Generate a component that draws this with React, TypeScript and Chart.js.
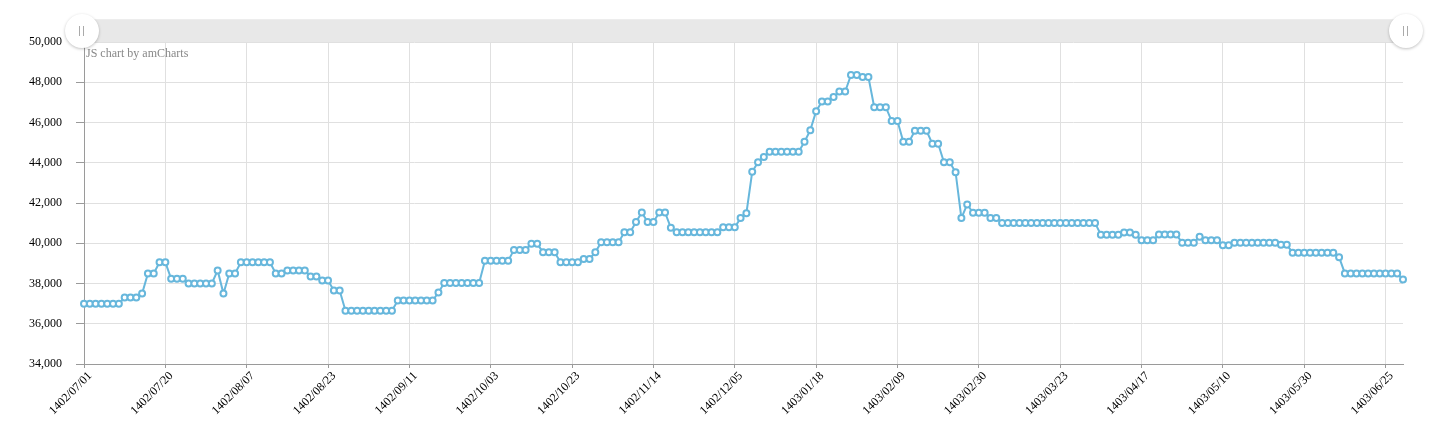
import React, { useEffect, useRef } from 'react';
import { Chart, registerables } from 'chart.js';

Chart.register(...registerables);

// Axis tick labels (one label every 14 trading days)
const tickLabels = [
  '1402/07/01', '1402/07/20', '1402/08/07', '1402/08/23', '1402/09/11',
  '1402/10/03', '1402/10/23', '1402/11/14', '1402/12/05', '1403/01/18',
  '1403/02/09', '1403/02/30', '1403/03/23', '1403/04/17', '1403/05/10',
  '1403/05/30', '1403/06/25',
];
const TICK_EVERY = 14;

// Price series (one value per trading day)
const prices = [
  37000, 37000, 37000, 37000, 37000, 37000, 37000,
  37300, 37300, 37300,
  37500,
  38500, 38500,
  39050, 39050,
  38230, 38230, 38230,
  38000, 38000, 38000, 38000, 38000,
  38650,
  37500,
  38500, 38500,
  39050, 39050, 39050, 39050, 39050, 39050,
  38500, 38500,
  38650, 38650, 38650, 38650,
  38350, 38350,
  38150, 38150,
  37650, 37650,
  36650, 36650, 36650, 36650, 36650, 36650, 36650, 36650, 36650,
  37150, 37150, 37150, 37150, 37150, 37150, 37150,
  37550,
  38030, 38030, 38030, 38030, 38030, 38030, 38030,
  39130, 39130, 39130, 39130, 39130,
  39670, 39670, 39670,
  39970, 39970,
  39550, 39550, 39550,
  39050, 39050, 39050, 39050,
  39220, 39220,
  39550,
  40050, 40050, 40050, 40050,
  40550, 40550,
  41050,
  41530,
  41050, 41050,
  41530, 41530,
  40770,
  40550, 40550, 40550, 40550, 40550, 40550, 40550, 40550,
  40790, 40790, 40790,
  41250,
  41490,
  43550,
  44030,
  44280,
  44550, 44550, 44550, 44550, 44550, 44550,
  45040,
  45620,
  46560,
  47040, 47040,
  47270,
  47540, 47540,
  48360, 48360,
  48260, 48260,
  46760, 46760, 46760,
  46070, 46070,
  45040, 45040,
  45590, 45590, 45590,
  44950, 44950,
  44020, 44020,
  43530,
  41250,
  41930,
  41510, 41510, 41510,
  41250, 41250,
  41010, 41010, 41010, 41010, 41010, 41010, 41010, 41010, 41010,
  41010, 41010, 41010, 41010, 41010, 41010, 41010, 41010,
  40420, 40420, 40420, 40420,
  40540, 40540,
  40420,
  40150, 40150, 40150,
  40430, 40430, 40430, 40430,
  40020, 40020, 40020,
  40320,
  40150, 40150, 40150,
  39900, 39900,
  40030, 40030, 40030, 40030, 40030, 40030, 40030, 40030,
  39930, 39930,
  39530, 39530, 39530, 39530, 39530, 39530, 39530, 39530,
  39310,
  38500, 38500, 38500, 38500, 38500, 38500, 38500, 38500, 38500, 38500,
  38200,
];

const Y_MIN = 34000;
const Y_MAX = 50000;
const Y_STEP = 2000;

const categories = prices.map((_, i) =>
  i % TICK_EVERY === 0 && tickLabels[i / TICK_EVERY] ? tickLabels[i / TICK_EVERY] : ''
);

const LINE = '#67b7dc';
const GRID = '#e0e0e0';
const AXIS = '#9a9a9a';
const FONT = '"Liberation Serif", "Times New Roman", serif';

function Grip({ left }: { left: number }) {
  return (
    <div
      style={{
        position: 'absolute',
        left: left - 17,
        top: 14,
        width: 34,
        height: 34,
        borderRadius: '50%',
        background: '#fff',
        boxShadow: '0 1px 3px rgba(0,0,0,0.25)',
      }}
    >
      <div style={{ position: 'absolute', left: 14, top: 12, width: 1, height: 10, background: '#aaa' }} />
      <div style={{ position: 'absolute', left: 18, top: 12, width: 1, height: 10, background: '#aaa' }} />
    </div>
  );
}

export default function App() {
  const ref = useRef<HTMLCanvasElement>(null);

  useEffect(() => {
    if (!ref.current) return;
    const chart = new Chart(ref.current, {
      type: 'line',
      data: {
        labels: categories,
        datasets: [
          {
            data: prices,
            borderColor: LINE,
            borderWidth: 2,
            pointRadius: 3,
            pointBorderWidth: 2,
            pointBackgroundColor: '#ffffff',
            pointBorderColor: LINE,
            tension: 0,
            fill: false,
          },
        ],
      },
      options: {
        animation: false,
        responsive: false,
        maintainAspectRatio: false,
        devicePixelRatio: 1,
        layout: { padding: { top: 42, right: 35, left: 0, bottom: 0 } },
        plugins: { legend: { display: false }, tooltip: { enabled: false } },
        scales: {
          x: {
            type: 'category',
            offset: false,
            grid: { color: GRID, tickColor: AXIS, tickLength: 4 },
            border: { color: AXIS, width: 1 },
            ticks: {
              autoSkip: false,
              maxRotation: 45,
              minRotation: 45,
              padding: 1,
              labelOffset: 6,
              color: '#000',
              font: { family: FONT, size: 12 },
              callback: (_v: any, i: number) =>
                i % TICK_EVERY === 0 && tickLabels[i / TICK_EVERY] ? tickLabels[i / TICK_EVERY] : null,
            },
            afterFit: (s: any) => {
              s.height = 76;
            },
          },
          y: {
            min: Y_MIN,
            max: Y_MAX,
            grid: { color: GRID, tickColor: AXIS, tickLength: 8 },
            border: { color: AXIS, width: 1 },
            ticks: {
              stepSize: Y_STEP,
              padding: 14,
              color: '#000',
              font: { family: FONT, size: 12 },
              callback: (v: any) => Number(v).toLocaleString('en-US'),
            },
            afterFit: (s: any) => {
              s.width = 84;
            },
          },
        },
      },
    });
    return () => chart.destroy();
  }, []);

  return (
    <div style={{ position: 'fixed', left: 0, top: 0, width: 1438, height: 440, background: '#fff', overflow: 'hidden' }}>
      <canvas ref={ref} width={1438} height={440} style={{ position: 'absolute', left: 0, top: 0, width: 1438, height: 440 }} />
      <div style={{ position: 'absolute', left: 82, top: 19, width: 1324, height: 23, background: '#e8e8e8', borderTop: '1px solid #ededed', boxSizing: 'border-box' }} />
      <Grip left={82} />
      <Grip left={1406} />
      <div style={{ position: 'absolute', left: 86, top: 46, fontFamily: FONT, fontSize: 12, color: '#888', whiteSpace: 'nowrap' }}>
        JS chart by amCharts
      </div>
    </div>
  );
}
